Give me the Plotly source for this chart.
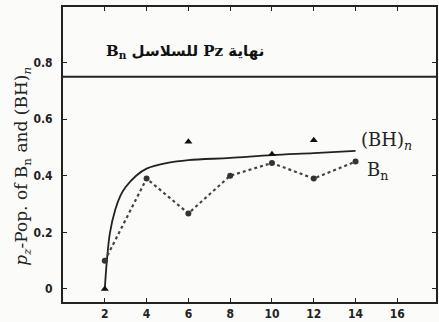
import plotly.graph_objects as go

# B_n populations (dotted line with filled circles)
bn_x = [2, 4, 6, 8, 10, 12, 14]
bn_y = [0.10, 0.39, 0.267, 0.40, 0.445, 0.39, 0.45]

# (BH)_n populations (triangles)
bh_x = [2, 6, 10, 12]
bh_y = [0.0, 0.52, 0.476, 0.525]

# smooth (BH)_n trend curve
curve_x = [2, 2.1, 2.25, 2.5, 2.75, 3, 3.5, 4, 5, 6, 8, 10, 12, 14]
curve_y = [0.0, 0.10, 0.20, 0.28, 0.33, 0.36, 0.40, 0.425, 0.445, 0.455, 0.463, 0.473, 0.48, 0.488]

# chain-end limit
pz_limit = 0.75

x_ticks = [2, 4, 6, 8, 10, 12, 14, 16]
y_ticks = [0, 0.2, 0.4, 0.6, 0.8]
y_tick_text = ["0", "0.2", "0.4", "0.6", "0.8"]

ink = "#222222"
serif = "DejaVu Serif, Liberation Serif, serif"
tick_font = dict(family="Liberation Sans Narrow, DejaVu Sans Condensed, Liberation Sans, sans-serif",
                 size=12, color=ink, weight="bold")

fig = go.Figure()

fig.add_trace(go.Scatter(
    x=[0, 17.85], y=[pz_limit, pz_limit], mode="lines",
    line=dict(color=ink, width=2), hoverinfo="skip", showlegend=False))

fig.add_trace(go.Scatter(
    x=curve_x, y=curve_y, mode="lines", line_shape="spline",
    line=dict(color=ink, width=1.8), showlegend=False))

fig.add_trace(go.Scatter(
    x=bn_x, y=bn_y, mode="lines+markers",
    line=dict(color="#444444", width=2.2, dash="dot"),
    marker=dict(symbol="circle", size=6, color="#333333"),
    showlegend=False))

fig.add_trace(go.Scatter(
    x=bh_x, y=bh_y, mode="markers",
    marker=dict(symbol="triangle-up", size=7, color="#111111"),
    showlegend=False))

fig.add_annotation(
    x=14.15, y=0.523, xref="x", yref="y", xanchor="left", yanchor="middle",
    text="(BH)<sub><i>n</i></sub>", showarrow=False,
    font=dict(family=serif, size=18, color=ink))
fig.add_annotation(
    x=14.45, y=0.415, xref="x", yref="y", xanchor="left", yanchor="middle",
    text="B<sub>n</sub>", showarrow=False,
    font=dict(family=serif, size=18, color=ink))

fig.add_annotation(
    x=5.86, y=0.84, xref="x", yref="y", xanchor="center", yanchor="middle",
    text="\u202bنهاية Pz للسلاسل B<sub>n</sub>\u202c", showarrow=False,
    font=dict(family="DejaVu Serif, DejaVu Sans, serif", size=15, color="#111111", weight="bold"))

fig.add_annotation(
    x=-0.109, y=0.46, xref="paper", yref="paper", xanchor="center", yanchor="middle",
    textangle=-90, showarrow=False,
    text="<i>p<sub>z</sub></i>-Pop. of B<sub>n</sub> and (BH)<sub><i>n</i></sub>",
    font=dict(family=serif, size=17, color=ink))

axis_common = dict(
    showline=True, linecolor=ink, linewidth=2, mirror="ticks",
    ticks="inside", ticklen=4, tickwidth=1, tickcolor=ink,
    showgrid=False, zeroline=False, tickfont=tick_font)

fig.update_xaxes(range=[0, 17.85], tickvals=x_ticks, **axis_common)
fig.update_yaxes(range=[-0.046, 0.996], tickvals=y_ticks, ticktext=y_tick_text,
                 ticklabelstandoff=6, **axis_common)

fig.update_layout(
    width=439, height=322,
    margin=dict(l=63, r=1, t=7, b=18),
    paper_bgcolor="#fbfbfa", plot_bgcolor="#fbfbfa",
    showlegend=False)

fig.write_html("out.html")
